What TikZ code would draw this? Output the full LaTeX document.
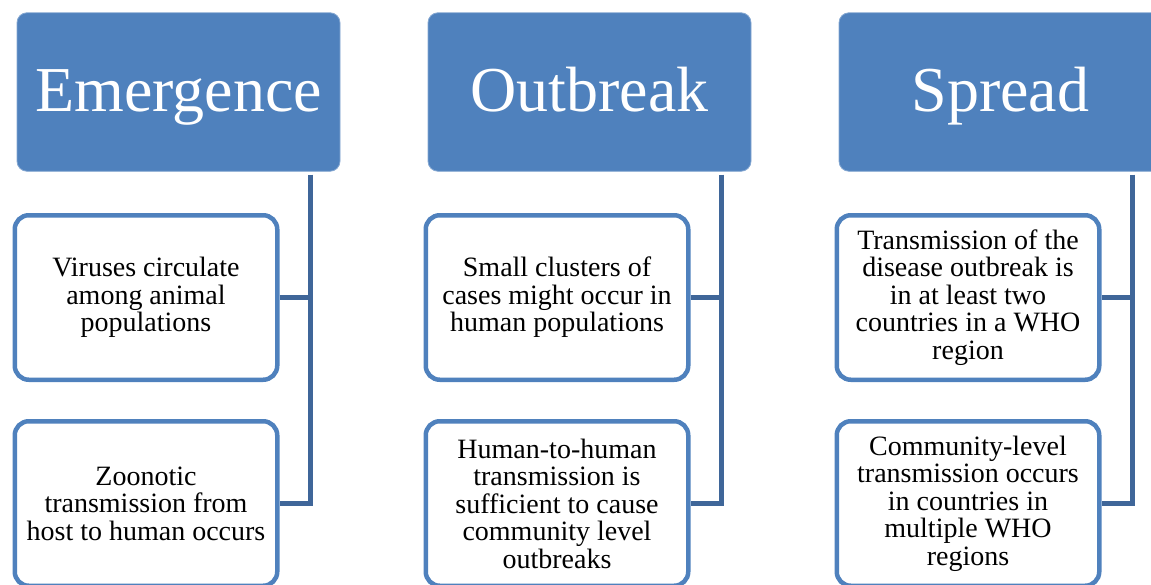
\documentclass[tikz,border=0pt]{standalone}
\usepackage{fontspec}
\setmainfont{Liberation Serif}
\definecolor{accent}{HTML}{4F81BD}
\definecolor{spine}{HTML}{3F6699}
\tikzset{
  header/.style={rectangle, rounded corners=10pt, fill=accent, draw=accent!70!white, line width=0.8pt,
    minimum width=323pt, minimum height=158.5pt, inner sep=0pt, text=white,
    text height=50pt, text depth=12pt,
    font=\fontsize{64}{70}\selectfont},
  child/.style={rectangle, rounded corners=14pt, fill=white, draw=accent, line width=4.5pt,
    minimum width=262.5pt, minimum height=164.5pt, inner sep=0pt, align=center,
    font=\fontsize{28}{27.5}\selectfont},
  conn/.style={draw=spine, line width=5pt}
}
\begin{document}
\begin{tikzpicture}[x=1pt,y=-1pt]
\useasboundingbox (0,0) rectangle (1151,584);
\clip (0,0) rectangle (1151,584);
% headers
\node[header] (h1) at (178.5,92) {Emergence};
\node[header] (h2) at (589.5,92) {Outbreak};
\node[header] (h3) at (1000.5,92) {Spread};
% children
\node[child] (c1) at (146,297.5) {Viruses circulate\\among animal\\populations};
\node[child] (c2) at (146,503.5) {Zoonotic\\transmission from\\host to human occurs};
\node[child] (c3) at (557,297.5) {Small clusters of\\cases might occur in\\human populations};
\node[child] (c4) at (557,503.5) {Human-to-human\\transmission is\\sufficient to cause\\community level\\outbreaks};
\node[child] (c5) at (968,297.5) {Transmission of the\\disease outbreak is\\in at least two\\countries in a WHO\\region};
\node[child] (c6) at (968,503.5) {Community-level\\transmission occurs\\in countries in\\multiple WHO\\regions};
% spines
\coordinate (s1) at ([xshift=-30pt,yshift=-3pt]h1.south east);
\coordinate (s2) at ([xshift=-30pt,yshift=-3pt]h2.south east);
\coordinate (s3) at ([xshift=-30pt,yshift=-3pt]h3.south east);
\draw[conn] (s1) |- (c2.east);
\draw[conn] (c1.east) -- (c1.east -| s1);
\draw[conn] (s2) |- (c4.east);
\draw[conn] (c3.east) -- (c3.east -| s2);
\draw[conn] (s3) |- (c6.east);
\draw[conn] (c5.east) -- (c5.east -| s3);
\end{tikzpicture}
\end{document}
